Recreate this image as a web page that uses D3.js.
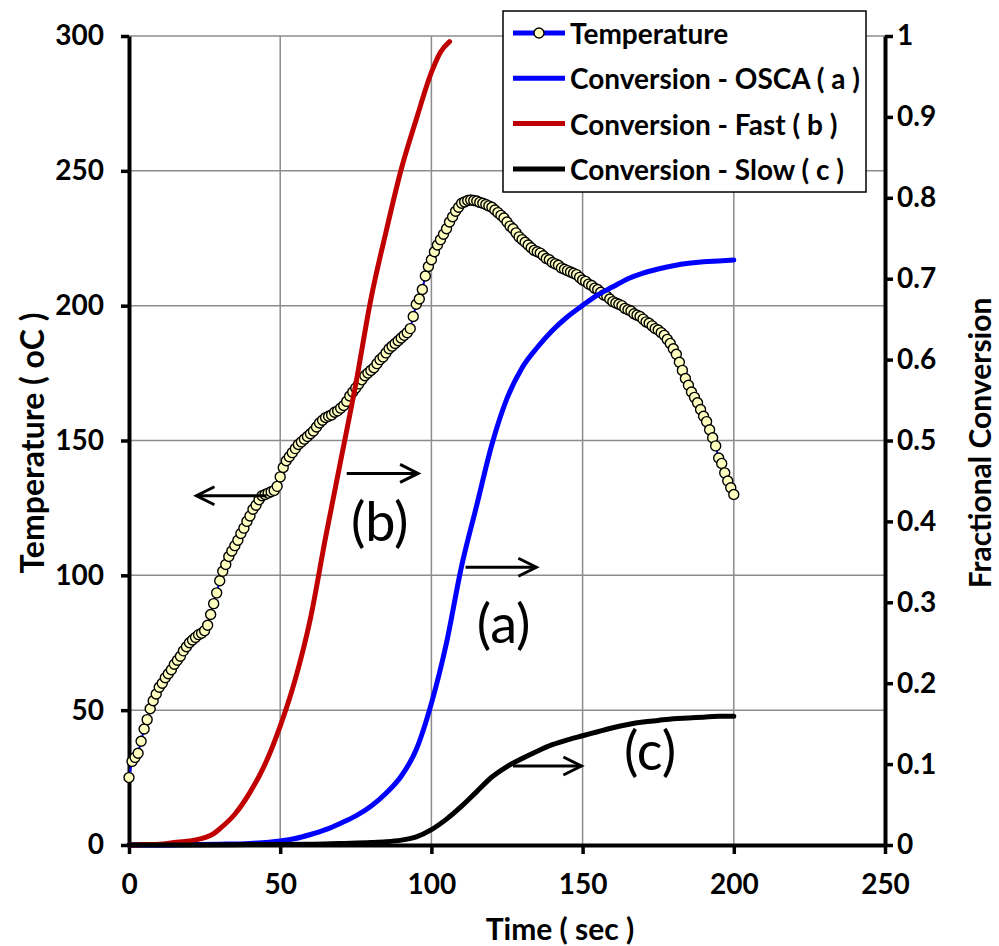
<!DOCTYPE html>
<html>
<head>
<meta charset="utf-8">
<script src="https://cdn.jsdelivr.net/npm/d3@7/dist/d3.min.js"></script>
<style>
  body { margin: 0; background: #fff; }
  svg text { font-family: Lato, "Open Sans", sans-serif; }
</style>
</head>
<body>
<div id="chart"></div>
<script>
// measured temperature, one reading per second (0..200 s)
const tempTime = d3.range(0, 201);
const tempValues = [
  25, 31, 32.5, 34, 38.5, 43, 46.5, 50.5, 53.5, 56,
  58.5, 60, 62, 63.5, 65, 67, 68.5, 70, 72, 73.5,
  75, 76, 77, 78, 78.5, 79.5, 81.5, 85.5, 89.5, 93.5,
  98, 101.5, 104, 107, 109, 111, 113, 115.5, 117.5, 120,
  122, 124.5, 126, 128, 129.5, 130, 130.5, 131, 131.5, 133,
  136.5, 140, 142.5, 144, 145.5, 147, 148.5, 149.5, 150.5, 151.5,
  152.5, 153.5, 155, 156.5, 157.5, 158.5, 159, 159.5, 160.5, 161,
  162, 163, 164.5, 166.5, 168, 169.5, 171, 172.5, 174, 175,
  176, 177, 178.5, 180, 181, 182.5, 184, 185, 186, 187,
  188, 189, 190, 191.5, 196, 200.5, 202.5, 206, 211, 214.5,
  217, 220, 222.5, 224.5, 226.5, 228.5, 231, 233, 235, 236.5,
  238, 238.5, 239, 239.2, 239, 238.8, 238.3, 238, 237.5, 237,
  236.5, 235.5, 234.5, 233.5, 232.5, 231, 229.5, 228.5, 227, 225.5,
  224.5, 223.5, 222.5, 221.5, 220.5, 220, 219.5, 218.5, 217.5, 217,
  216, 215.5, 215, 214, 213.5, 213, 212.5, 212, 211.5, 210.5,
  209.5, 209, 208, 207.5, 206.5, 206, 205, 204, 203.5, 202.5,
  201.5, 201, 200.5, 200, 199, 198.5, 198, 197, 196.5, 196,
  195, 194, 193.5, 192.5, 191.5, 191, 190, 189, 187.5, 186,
  184, 182, 179, 176, 173, 170.5, 168, 166, 164, 161.5,
  159, 157, 154, 151, 148, 143.5, 141.5, 138, 135, 132.5,
  130
];

// fractional conversion curves
const fastTime = [0, 5, 10, 15, 20, 25, 28, 30, 35, 40, 45, 50, 55, 60, 65, 70, 75, 80, 85, 90, 95, 100, 103, 106];
const fastConv = [0, 0.0005, 0.001, 0.003, 0.005, 0.009, 0.014, 0.02, 0.038, 0.065, 0.1, 0.147, 0.205, 0.28, 0.38, 0.475, 0.57, 0.675, 0.758, 0.835, 0.897, 0.955, 0.98, 0.993];

const oscaTime = [0, 10, 20, 30, 40, 50, 55, 60, 65, 70, 75, 80, 85, 90, 95, 100, 105, 110, 115, 120, 125, 130, 135, 140, 145, 150, 155, 160, 165, 170, 175, 180, 185, 190, 195, 200];
const oscaConv = [0, 0, 0.0005, 0.001, 0.002, 0.005, 0.008, 0.013, 0.019, 0.027, 0.036, 0.048, 0.064, 0.085, 0.118, 0.175, 0.25, 0.345, 0.42, 0.495, 0.552, 0.59, 0.615, 0.636, 0.653, 0.667, 0.68, 0.69, 0.7, 0.707, 0.712, 0.716, 0.719, 0.721, 0.722, 0.723];

const slowTime = [0, 20, 40, 60, 70, 80, 85, 90, 95, 100, 105, 110, 115, 120, 125, 130, 135, 140, 145, 150, 155, 160, 165, 170, 175, 180, 185, 190, 195, 200];
const slowConv = [0, 0, 0.0005, 0.001, 0.002, 0.003, 0.004, 0.006, 0.01, 0.019, 0.032, 0.048, 0.066, 0.084, 0.097, 0.107, 0.116, 0.124, 0.13, 0.135, 0.14, 0.145, 0.149, 0.152, 0.154, 0.156, 0.157, 0.158, 0.159, 0.159];

const legendNames = ["Temperature", "Conversion - OSCA ( a )", "Conversion - Fast ( b )", "Conversion - Slow ( c )"];
const xTicks = [0, 50, 100, 150, 200, 250];
const tempTicks = [0, 50, 100, 150, 200, 250, 300];
const convTicks = [0, 0.1, 0.2, 0.3, 0.4, 0.5, 0.6, 0.7, 0.8, 0.9, 1];

const W = 999, H = 946;
const mg = { left: 129, right: 114, top: 36, bottom: 101 };

const svg = d3.select("#chart").append("svg")
  .attr("width", W)
  .attr("height", H);

const x = d3.scaleLinear().domain([0, 250]).range([mg.left, W - mg.right]);
const yT = d3.scaleLinear().domain([0, 300]).range([H - mg.bottom, mg.top]);
const yC = d3.scaleLinear().domain([0, 1]).range([H - mg.bottom, mg.top]);

// grid
svg.append("g").selectAll("line.gx")
  .data(xTicks.slice(1, -1))
  .enter().append("line")
  .attr("x1", d => x(d)).attr("x2", d => x(d))
  .attr("y1", yT(0)).attr("y2", yT(300))
  .attr("stroke", "#8c8c8c").attr("stroke-width", 1.5);

svg.append("g").selectAll("line.gy")
  .data(tempTicks.slice(1))
  .enter().append("line")
  .attr("x1", x(0)).attr("x2", x(250))
  .attr("y1", d => yT(d)).attr("y2", d => yT(d))
  .attr("stroke", "#8c8c8c").attr("stroke-width", 1.5);

// axes
const axisFont = g => {
  g.select(".domain").attr("stroke", "#000").attr("stroke-width", 4);
  g.selectAll(".tick line").attr("stroke", "#000").attr("stroke-width", 3.5);
  g.selectAll(".tick text")
    .attr("fill", "#000")
    .style("font-size", "28px")
    .style("font-weight", "bold")
    .style("font-family", "Lato, sans-serif");
};

svg.append("g")
  .attr("transform", `translate(${x(0)},0)`)
  .call(d3.axisLeft(yT).tickValues(tempTicks).tickSize(8).tickSizeOuter(0).tickPadding(17))
  .call(axisFont);

svg.append("g")
  .attr("transform", `translate(${x(250)},0)`)
  .call(d3.axisRight(yC).tickValues(convTicks).tickSize(8).tickSizeOuter(0).tickPadding(4)
    .tickFormat(d => d === 0 || d === 1 ? d3.format("d")(d) : d3.format(".1f")(d)))
  .call(axisFont);

svg.append("g")
  .attr("transform", `translate(0,${yT(0)})`)
  .call(d3.axisBottom(x).tickValues(xTicks).tickSize(9).tickSizeOuter(0).tickPadding(20))
  .call(axisFont);

// axis titles
svg.append("text")
  .attr("transform", `translate(31,443) rotate(-90)`)
  .attr("text-anchor", "middle")
  .attr("dominant-baseline", "central")
  .style("font-size", "32px").style("font-weight", "bold")
  .text("Temperature ( oC )");

svg.append("text")
  .attr("transform", `translate(979,443) rotate(-90)`)
  .attr("text-anchor", "middle")
  .attr("dominant-baseline", "central")
  .style("font-size", "30px").style("font-weight", "bold")
  .text("Fractional Conversion");

svg.append("text")
  .attr("x", 560)
  .attr("y", 940)
  .attr("text-anchor", "middle")
  .style("font-size", "30px").style("font-weight", "bold")
  .text("Time ( sec )");

// temperature series
const tempData = tempTime.map((t, i) => ({ t: t, v: tempValues[i] }));
const tLine = d3.line().x(d => x(d.t)).y(d => yT(d.v));

svg.append("path")
  .datum(tempData)
  .attr("d", tLine)
  .attr("fill", "none")
  .attr("stroke", "#0000ff")
  .attr("stroke-width", 2);

svg.append("g").selectAll("circle")
  .data(tempData)
  .enter().append("circle")
  .attr("cx", d => x(d.t))
  .attr("cy", d => yT(d.v))
  .attr("r", 5)
  .attr("fill", "#ffffc0")
  .attr("stroke", "#000")
  .attr("stroke-width", 1.4);

// conversion series
const convSeries = [
  { time: oscaTime, vals: oscaConv, color: "#0000ff" },
  { time: fastTime, vals: fastConv, color: "#c00000" },
  { time: slowTime, vals: slowConv, color: "#000000" }
];
const cLine = d3.line().x(d => x(d[0])).y(d => yC(d[1])).curve(d3.curveMonotoneX);

svg.append("g").selectAll("path")
  .data(convSeries)
  .enter().append("path")
  .attr("d", s => cLine(s.time.map((t, i) => [t, s.vals[i]])))
  .attr("fill", "none")
  .attr("stroke", s => s.color)
  .attr("stroke-width", 5)
  .attr("stroke-linecap", "round");

// annotation arrows: [t, value on left axis] start -> end
const arrows = [
  { from: [45.5, 129.5], to: [22.3, 129.5] },
  { from: [72.0, 137.8], to: [95.6, 137.8] },
  { from: [111.3, 103], to: [134.7, 103] },
  { from: [127.0, 29.3], to: [149.6, 29.3] }
];
const arrowG = svg.append("g").attr("stroke", "#000").attr("stroke-width", 3).attr("fill", "none");
arrows.forEach(a => {
  const x1 = x(a.from[0]), x2 = x(a.to[0]), yy = yT(a.from[1]);
  const dir = x2 > x1 ? 1 : -1;
  arrowG.append("line").attr("x1", x1).attr("x2", x2).attr("y1", yy).attr("y2", yy);
  arrowG.append("path")
    .attr("d", `M${x2 - dir * 18},${yy - 9}L${x2},${yy}L${x2 - dir * 18},${yy + 9}`)
    .attr("stroke-linejoin", "miter");
});

const labels = [
  { text: "(b)", t: 82.9, v: 112.6 },
  { text: "(a)", t: 123.9, v: 74.8 },
  { text: "(c)", t: 172.3, v: 27.8 }
];
svg.append("g").selectAll("text")
  .data(labels)
  .enter().append("text")
  .attr("x", d => x(d.t))
  .attr("y", d => yT(d.v))
  .attr("text-anchor", "middle")
  .style("font-size", "54px")
  .text(d => d.text);

// legend
const lg = svg.append("g").attr("transform", "translate(503,11)");
lg.append("rect")
  .attr("width", 363).attr("height", 181)
  .attr("fill", "#fff").attr("stroke", "#000").attr("stroke-width", 1.5);

const lgColors = ["#0000ff", "#0000ff", "#c00000", "#000000"];
const rows = lg.selectAll("g.row")
  .data(legendNames)
  .enter().append("g")
  .attr("transform", (d, i) => `translate(0,${22 + i * 45.3})`);

rows.append("line")
  .attr("x1", 10).attr("x2", 62)
  .attr("stroke", (d, i) => lgColors[i])
  .attr("stroke-width", 5);

rows.filter((d, i) => i === 0).append("circle")
  .attr("cx", 36).attr("r", 5)
  .attr("fill", "#ffffc0").attr("stroke", "#000").attr("stroke-width", 1.4);

rows.append("text")
  .attr("x", 67)
  .attr("dominant-baseline", "central")
  .style("font-size", "28px").style("font-weight", "bold")
  .text(d => d);
</script>
</body>
</html>
